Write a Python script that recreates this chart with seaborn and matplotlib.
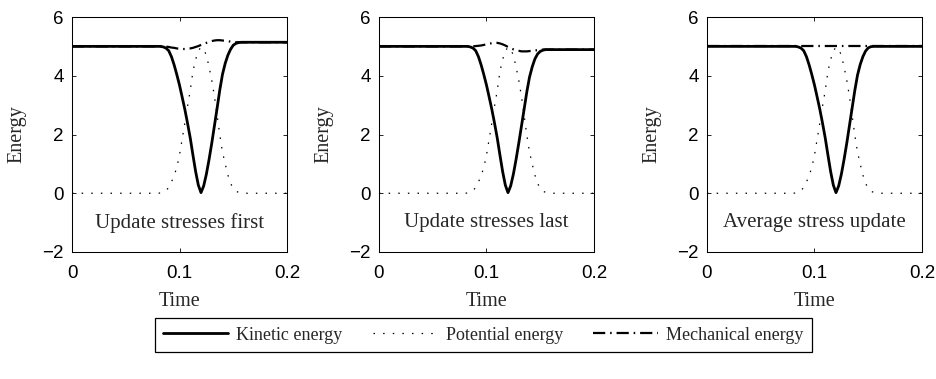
import matplotlib
matplotlib.use("Agg")
import matplotlib.pyplot as plt
from matplotlib.lines import Line2D
import seaborn as sns
import pandas as pd

# Shared time grid (s)
time = [0.0, 0.08, 0.0825, 0.085, 0.0875, 0.09, 0.0925, 0.095, 0.0975, 0.1,
        0.1025, 0.105, 0.1075, 0.11, 0.1125, 0.115, 0.1175, 0.12, 0.1225, 0.125,
        0.1275, 0.13, 0.1325, 0.135, 0.1375, 0.14, 0.1425, 0.145, 0.1475, 0.15,
        0.1525, 0.155, 0.1575, 0.16, 0.2]

# Update stresses first
kinetic_first = [5.0, 5.0, 5.0, 4.98, 4.94, 4.85, 4.65, 4.37, 4.04, 3.68,
                 3.27, 2.85, 2.38, 1.88, 1.3, 0.74, 0.28, 0.02, 0.25, 0.65,
                 1.15, 1.7, 2.3, 2.9, 3.52, 4.05, 4.42, 4.7, 4.9, 5.04,
                 5.1, 5.13, 5.14, 5.14, 5.14]
potential_first = [0.0, 0.0, 0.01, 0.03, 0.09, 0.2, 0.38, 0.6, 0.88, 1.3,
                   1.85, 2.4, 2.97, 3.5, 4.15, 4.55, 4.85, 4.97, 4.9, 4.7,
                   4.3, 3.85, 3.3, 2.65, 1.98, 1.4, 1.0, 0.62, 0.34, 0.16,
                   0.07, 0.03, 0.01, 0.0, 0.0]
mechanical_first = [5.0, 5.0, 5.0, 5.0, 4.99, 4.98, 4.96, 4.95, 4.93, 4.92,
                    4.91, 4.91, 4.92, 4.93, 4.95, 4.98, 5.01, 5.05, 5.09, 5.12,
                    5.15, 5.18, 5.2, 5.21, 5.21, 5.2, 5.19, 5.18, 5.16, 5.15,
                    5.14, 5.14, 5.14, 5.14, 5.14]

# Update stresses last
kinetic_last = [5.0, 5.0, 5.0, 4.98, 4.94, 4.85, 4.65, 4.37, 4.04, 3.68,
                3.27, 2.85, 2.38, 1.88, 1.3, 0.74, 0.28, 0.02, 0.25, 0.65,
                1.15, 1.7, 2.28, 2.86, 3.45, 3.95, 4.3, 4.57, 4.74, 4.83,
                4.87, 4.89, 4.89, 4.89, 4.89]
potential_last = [0.0, 0.0, 0.01, 0.03, 0.09, 0.2, 0.38, 0.6, 0.88, 1.3,
                  1.85, 2.4, 2.97, 3.5, 4.15, 4.55, 4.85, 4.97, 4.9, 4.7,
                  4.3, 3.85, 3.3, 2.65, 1.98, 1.4, 1.0, 0.62, 0.34, 0.16,
                  0.07, 0.03, 0.01, 0.0, 0.0]
mechanical_last = [5.0, 5.0, 5.0, 5.0, 5.0, 5.01, 5.02, 5.03, 5.05, 5.07,
                   5.09, 5.11, 5.12, 5.12, 5.1, 5.07, 5.03, 4.98, 4.94, 4.9,
                   4.87, 4.85, 4.83, 4.83, 4.83, 4.84, 4.85, 4.86, 4.87, 4.88,
                   4.89, 4.89, 4.89, 4.89, 4.89]

# Average stress update
kinetic_avg = [5.0, 5.0, 5.0, 4.98, 4.94, 4.85, 4.65, 4.37, 4.04, 3.68,
               3.27, 2.85, 2.38, 1.88, 1.3, 0.74, 0.28, 0.02, 0.25, 0.65,
               1.15, 1.7, 2.3, 2.9, 3.5, 4.02, 4.38, 4.65, 4.84, 4.95,
               4.99, 5.0, 5.0, 5.0, 5.0]
potential_avg = [0.0, 0.0, 0.01, 0.03, 0.09, 0.2, 0.38, 0.6, 0.88, 1.3,
                 1.85, 2.4, 2.97, 3.5, 4.15, 4.55, 4.85, 4.97, 4.9, 4.7,
                 4.3, 3.85, 3.3, 2.65, 1.98, 1.4, 1.0, 0.62, 0.34, 0.16,
                 0.07, 0.03, 0.01, 0.0, 0.0]
mechanical_avg = [5.0, 5.0, 5.0, 5.0, 5.0, 5.0, 5.0, 5.0, 5.0, 5.0,
                  5.0, 5.0, 5.0, 5.0, 5.0, 5.0, 5.0, 5.0, 5.0, 5.0,
                  5.0, 5.0, 5.0, 5.0, 5.0, 5.0, 5.0, 5.0, 5.0, 5.0,
                  5.0, 5.0, 5.0, 5.0, 5.0]

panel_titles = ["Update stresses first", "Update stresses last", "Average stress update"]
series_labels = ["Kinetic energy", "Potential energy", "Mechanical energy"]
x_ticks = [0, 0.1, 0.2]
x_tick_labels = ["0", "0.1", "0.2"]
y_ticks = [-2, 0, 2, 4, 6]
y_tick_labels = ["\u22122", "0", "2", "4", "6"]

panels = [
    (kinetic_first, potential_first, mechanical_first),
    (kinetic_last, potential_last, mechanical_last),
    (kinetic_avg, potential_avg, mechanical_avg),
]

sns.set_style("ticks")
plt.rcParams["font.family"] = ["Liberation Sans", "DejaVu Sans"]
plt.rcParams["axes.linewidth"] = 0.75
plt.rcParams["xtick.direction"] = "in"
plt.rcParams["ytick.direction"] = "in"

SERIF = ["Liberation Serif", "DejaVu Serif"]
styles = {
    "Kinetic energy": dict(linestyle="-", linewidth=2.0),
    "Potential energy": dict(linestyle=(0, (1.2, 6.5)), linewidth=0.9),
    "Mechanical energy": dict(linestyle=(0, (5.5, 2.2, 0.7, 2.2)), linewidth=1.6),
}

fig = plt.figure(figsize=(9.37, 3.79), dpi=100)
lefts = [72, 379, 707]
W, H = 937, 379
for i, (kin, pot, mech) in enumerate(panels):
    ax = fig.add_axes([lefts[i] / W, 1 - 252 / H, 215 / W, 235 / H])
    df = pd.DataFrame({"Time": time, "Kinetic energy": kin,
                       "Potential energy": pot, "Mechanical energy": mech})
    for name in ["Potential energy", "Mechanical energy", "Kinetic energy"]:
        sns.lineplot(data=df, x="Time", y=name, ax=ax, color="black",
                     estimator=None, sort=False, **styles[name])
    ax.set_xlim(0, 0.2)
    ax.set_ylim(-2, 6)
    ax.set_xticks(x_ticks)
    ax.set_xticklabels(x_tick_labels)
    ax.set_yticks(y_ticks)
    ax.set_yticklabels(y_tick_labels)
    ax.tick_params(axis="both", which="both", top=True, right=True,
                   length=3, width=0.6, labelsize=13.5, colors="black")
    ax.tick_params(axis="x", pad=9)
    ax.tick_params(axis="y", pad=6)
    for s in ax.spines.values():
        s.set_visible(True)
        s.set_color("black")
    ax.set_xlabel("Time", fontfamily=SERIF, fontsize=14.5)
    ax.set_ylabel("Energy", fontfamily=SERIF, fontsize=14.5)
    ax.xaxis.set_label_coords(0.5, -0.17)
    ax.yaxis.set_label_coords(-0.212, 0.5)
    ax.text(0.1, -1.0, panel_titles[i], ha="center", va="center",
            fontfamily=SERIF, fontsize=15)

handles = [Line2D([], [], color="black", **styles[n]) for n in series_labels]
box_l, box_r, box_t, box_b = 155, 812, 318, 352
leg = fig.legend(handles, series_labels, loc="center",
                 bbox_to_anchor=(box_l / W, 1 - box_b / H,
                                 (box_r - box_l) / W, (box_b - box_t) / H),
                 mode="expand", ncol=3,
                 frameon=True, fancybox=False, edgecolor="black",
                 framealpha=1, handlelength=3.6, handletextpad=0.45,
                 borderpad=0.45, borderaxespad=0.0,
                 prop={"family": SERIF, "size": 13})
leg.get_frame().set_linewidth(0.9)

fig.savefig("out.png", dpi=100, facecolor="white")
